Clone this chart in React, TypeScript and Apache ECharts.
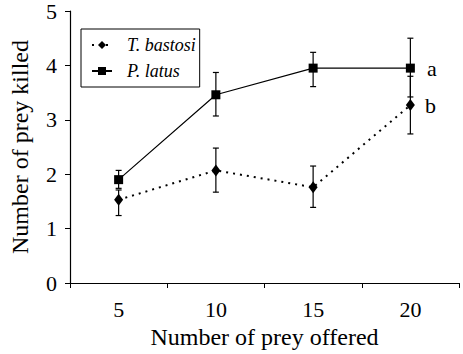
import React, { useEffect, useRef } from "react";
import * as echarts from "echarts";

const categories = ["5", "10", "15", "20"];
const bastosiMean = [1.53, 2.07, 1.76, 3.27];
const bastosiLow = [1.24, 1.67, 1.39, 2.74];
const bastosiHigh = [1.71, 2.48, 2.15, 3.8];
const latusMean = [1.9, 3.46, 3.95, 3.95];
const latusLow = [1.74, 3.07, 3.61, 3.42];
const latusHigh = [2.07, 3.87, 4.24, 4.5];
const yTicks = [0, 1, 2, 3, 4, 5];
const groupLetters = { latus: "a", bastosi: "b" };

const FONT = "'Liberation Serif', 'Times New Roman', serif";

function errorSeries(low: number[], high: number[]) {
  return {
    type: "custom",
    silent: true,
    z: 1,
    data: low.map((l, i) => [i, l, high[i]]),
    encode: { x: 0, y: [1, 2] },
    renderItem: (params: any, api: any) => {
      const idx = api.value(0);
      const lo = api.coord([idx, api.value(1)]);
      const hi = api.coord([idx, api.value(2)]);
      const w = 3;
      const style = { stroke: "#000", lineWidth: 1.2 };
      return {
        type: "group",
        children: [
          { type: "line", shape: { x1: lo[0], y1: lo[1], x2: hi[0], y2: hi[1] }, style },
          { type: "line", shape: { x1: hi[0] - w, y1: hi[1], x2: hi[0] + w, y2: hi[1] }, style },
          { type: "line", shape: { x1: lo[0] - w, y1: lo[1], x2: lo[0] + w, y2: lo[1] }, style },
        ],
      };
    },
  };
}

export default function App() {
  const ref = useRef<HTMLDivElement>(null);
  useEffect(() => {
    if (!ref.current) return;
    const chart = echarts.init(ref.current, undefined, { renderer: "svg" });
    const lastLabel = (text: string, dist: number) => ({
      show: true,
      position: "right",
      distance: dist,
      formatter: text,
      fontFamily: FONT,
      fontSize: 22,
      color: "#000",
    });
    chart.setOption({
      animation: false,
      backgroundColor: "#fff",
      textStyle: { fontFamily: FONT, color: "#000" },
      grid: { left: 68, top: 10, right: 4, bottom: 68 },
      legend: {
        orient: "vertical",
        left: 81,
        top: 29,
        padding: [7, 4, 7, 10],
        itemGap: 8,
        itemWidth: 20,
        itemHeight: 10,
        borderColor: "#000",
        borderWidth: 1,
        data: ["T. bastosi", "P. latus"],
        textStyle: {
          fontFamily: FONT,
          fontStyle: "italic",
          fontSize: 18,
          color: "#000",
          padding: [0, 0, 0, 10],
        },
      },
      xAxis: {
        type: "category",
        data: categories,
        boundaryGap: true,
        name: "Number of prey offered",
        nameLocation: "middle",
        nameGap: 42,
        nameTextStyle: { fontFamily: FONT, fontSize: 24, color: "#000" },
        axisLine: { lineStyle: { color: "#000", width: 1.2 } },
        axisTick: { show: true, length: 5, lineStyle: { color: "#000" } },
        axisLabel: { fontFamily: FONT, fontSize: 22, color: "#000", margin: 15 },
        splitLine: { show: false },
      },
      yAxis: {
        type: "value",
        min: yTicks[0],
        max: yTicks[yTicks.length - 1],
        interval: 1,
        name: "Number of prey killed",
        nameLocation: "middle",
        nameGap: 38,
        nameTextStyle: { fontFamily: FONT, fontSize: 24, color: "#000" },
        axisLine: { show: true, lineStyle: { color: "#000", width: 1.2 } },
        axisTick: { show: true, length: 5, lineStyle: { color: "#000" } },
        axisLabel: { fontFamily: FONT, fontSize: 22, color: "#000", margin: 13 },
        splitLine: { show: false },
      },
      series: [
        errorSeries(bastosiLow, bastosiHigh),
        errorSeries(latusLow, latusHigh),
        {
          name: "T. bastosi",
          type: "line",
          z: 3,
          data: bastosiMean.map((v, i) =>
            i === bastosiMean.length - 1 ? { value: v, label: lastLabel(groupLetters.bastosi, 10) } : v
          ),
          symbol: "diamond",
          symbolSize: [9, 12],
          lineStyle: { color: "#000", width: 2, type: [2, 5] },
          itemStyle: { color: "#000" },
        },
        {
          name: "P. latus",
          type: "line",
          z: 3,
          data: latusMean.map((v, i) =>
            i === latusMean.length - 1 ? { value: v, label: lastLabel(groupLetters.latus, 12) } : v
          ),
          symbol: "rect",
          symbolSize: 9,
          lineStyle: { color: "#000", width: 1.2, type: "solid" },
          itemStyle: { color: "#000" },
        },
      ],
    });
    return () => chart.dispose();
  }, []);
  return (
    <div
      ref={ref}
      style={{ position: "absolute", left: 0, top: 0, width: 463, height: 354 }}
    />
  );
}
